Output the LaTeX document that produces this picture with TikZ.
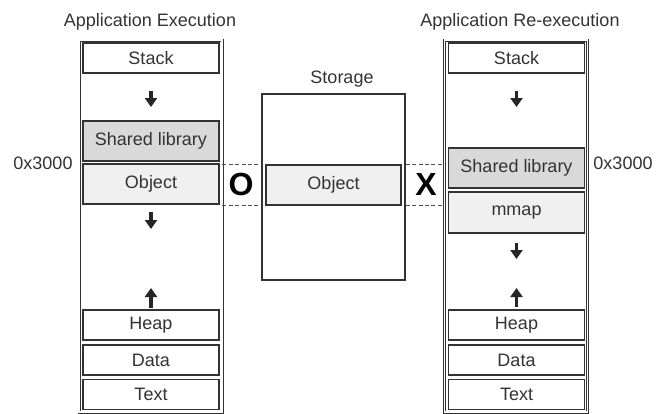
\documentclass[tikz,border=0pt]{standalone}
\usepackage{fontspec}
\setmainfont{Liberation Sans}
\usetikzlibrary{positioning,arrows.meta}
\tikzset{
    segbox/.style={
        rectangle,
        draw=black!80, % dark frame
        fill=white,
        text=black!80,
        line width=0.8pt,
        minimum width=68pt,
        minimum height=15pt,
        inner sep=0,
        font=\fontsize{9}{10}\selectfont
    },
    libbox/.style={
        segbox,
        fill=black!15, % shared library is darker
        minimum height=20pt
    },
    objbox/.style={
        segbox,
        fill=black!6,
        minimum height=20pt
    },
    colbox/.style={
        rectangle,
        draw=black!80,
        double, % double frame of the address space
        double distance=0.6pt,
        line width=0.45pt,
        minimum width=71.5pt,
        minimum height=186pt,
        inner sep=0
    },
    growarrow/.style={
        -{Triangle[width=6pt,length=4.5pt]},
        line width=1.6pt,
        black!85
    },
    dashlink/.style={
        black!70,
        line width=0.6pt,
        dash pattern=on 2pt off 1.2pt
    },
    memtitle/.style={
        inner sep=0,
        text=black!80,
        font=\fontsize{9}{10}\selectfont
    },
    marksign/.style={
        inner sep=0,
        font=\fontsize{16}{18}\selectfont\bfseries
    }
}

\begin{document}
\begin{tikzpicture}[x=0.5pt, y=-0.5pt]
    \useasboundingbox (0,0) rectangle (663,413);
    % left: first execution
    \node[colbox] (leftcol) at (150.5,226) {};
    \node[memtitle] (titleL) at (150,22) {Application Execution};
    \node[segbox] (stackL) at (151,58) {Stack};
    \node[libbox] (sharedL) at (151,141) {Shared library};
    \node[objbox] (objL) at (151,184) {Object};
    \node[segbox] (heapL) at (151,325) {Heap};
    \node[segbox] (dataL) at (151,360) {Data};
    \node[segbox] (textL) at (151,394.5) {Text};
    \node[memtitle] (addrL) at (43,163) {0x3000};
    \coordinate (aL1) at (151,91);
    \coordinate (aL2) at (151,212);
    \coordinate (aL3) at (151,308);
    \draw[growarrow] (aL1) -- ++(0,16);
    \draw[growarrow] (aL2) -- ++(0,17);
    \draw[growarrow] (aL3) -- ++(0,-20);

    % middle: storage
    \node[segbox, fill=none, minimum width=71.5pt, minimum height=93pt] (storage) at (333.5,187) {};
    \node[memtitle] (titleS) at (342,79) {Storage};
    \node[objbox, minimum width=67.5pt] (objS) at (333.5,185) {Object};

    % right: re-execution
    \node[colbox] (rightcol) at (516,226) {};
    \node[memtitle] (titleR) at (520,22) {Application Re-execution};
    \node[segbox] (stackR) at (516.5,58) {Stack};
    \node[libbox] (sharedR) at (516.5,168) {Shared library};
    \node[objbox, minimum height=20.5pt] (mmapR) at (516.5,212.5) {mmap};
    \node[segbox] (heapR) at (516.5,325) {Heap};
    \node[segbox] (dataR) at (516.5,360) {Data};
    \node[segbox] (textR) at (516.5,394.5) {Text};
    \node[memtitle] (addrR) at (623,163) {0x3000};
    \coordinate (aR1) at (516.5,91);
    \coordinate (aR2) at (516.5,243);
    \coordinate (aR3) at (516.5,307);
    \draw[growarrow] (aR1) -- ++(0,16);
    \draw[growarrow] (aR2) -- ++(0,16);
    \draw[growarrow] (aR3) -- ++(0,-19);

    % dashed guides and marks
    \draw[dashlink] (leftcol.east |- objS.north) -- (storage.west |- objS.north);
    \draw[dashlink] (leftcol.east |- objS.south) -- (storage.west |- objS.south);
    \draw[dashlink] (storage.east |- objS.north) -- (rightcol.west |- objS.north);
    \draw[dashlink] (storage.east |- objS.south) -- (rightcol.west |- objS.south);
    \node[marksign] (okmark) at (241,184) {O};
    \node[marksign] (nomark) at (426,184) {X};
\end{tikzpicture}
\end{document}
